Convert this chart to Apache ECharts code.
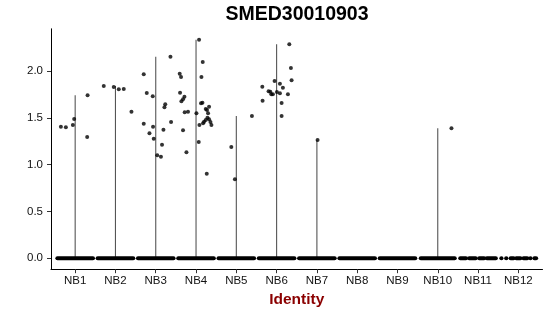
<!DOCTYPE html>
<html>
<head>
<meta charset="utf-8">
<script src="https://cdn.jsdelivr.net/npm/echarts@6/dist/echarts.min.js"></script>
<style>html,body{margin:0;padding:0;background:#fff}#c{width:550px;height:316px}</style>
</head>
<body>
<div id="c"></div>
<script>
const chartTitle = 'SMED30010903';
const xAxisTitle = 'Identity';
const categories = ['NB1','NB2','NB3','NB4','NB5','NB6','NB7','NB8','NB9','NB10','NB11','NB12'];
const yTicks = [0, 0.5, 1.0, 1.5, 2.0];

// non-zero expression values per identity
const exprValues = [
  [1.405, 1.399, 1.423, 1.487, 1.741, 1.295],
  [1.840, 1.829, 1.805, 1.808, 1.565],
  [1.965, 1.765, 1.730, 1.437, 1.335, 1.405, 1.277, 1.100, 1.085, 1.213, 1.373, 1.612, 1.644, 2.153, 1.455],
  [1.971, 1.936, 1.769, 1.726, 1.698, 1.676, 1.559, 1.566, 1.367, 1.132, 2.334, 2.096, 1.936, 1.655, 1.662,
   1.548, 1.423, 1.242, 0.903, 1.594, 1.584, 1.619, 1.548, 1.501, 1.477, 1.459, 1.441, 1.484, 1.455, 1.423],
  [1.188, 0.843, 1.519],
  [2.285, 2.032, 1.901, 1.893, 1.864, 1.832, 1.822, 1.783, 1.779, 1.751, 1.751, 1.776, 1.762, 1.751, 1.683, 1.658, 1.519],
  [1.263],
  [],
  [],
  [1.388],
  [],
  []
];
// horizontal jitter of those points (category units)
const jitterOffsets = [
  [-0.355, -0.231, -0.057, -0.025, 0.308, 0.298],
  [-0.29, -0.042, 0.082, 0.206, 0.397],
  [-0.298, -0.223, -0.075, -0.298, -0.156, -0.067, -0.05, 0.037, 0.129, 0.156, 0.191, 0.216, 0.236, 0.365, 0.380],
  [-0.405, -0.372, -0.397, -0.288, -0.323, -0.363, -0.281, -0.199, -0.323, -0.238, 0.075, 0.166, 0.134, 0.124, 0.159,
   0.01, 0.084, 0.067, 0.266, 0.241, 0.273, 0.323, 0.298, 0.283, 0.241, 0.199, 0.174, 0.323, 0.358, 0.382],
  [-0.124, -0.035, 0.387],
  [0.315, 0.355, 0.372, -0.05, 0.082, -0.355, 0.156, -0.199, -0.156, -0.132, -0.092, 0.007, 0.082, 0.281, -0.348, 0.124, 0.124],
  [0.017],
  [],
  [],
  [0.34],
  [],
  []
];
// spans (category units) covered by the jittered zero-valued cells
const zeroBands = [
  [[-0.44, 0.44]], [[-0.44, 0.44]], [[-0.44, 0.44]], [[-0.44, 0.44]], [[-0.44, 0.44]], [[-0.44, 0.44]],
  [[-0.44, 0.44]], [[-0.44, 0.44]], [[-0.44, 0.44]], [[-0.42, 0.42]],
  [[-0.44, -0.30], [-0.22, -0.06], [0.03, 0.15], [0.22, 0.44]],
  [[-0.42, -0.42], [-0.30, -0.30], [-0.19, -0.12], [-0.05, 0.05], [0.13, 0.22], [0.30, 0.30], [0.40, 0.44]]
];

const chart = echarts.init(document.getElementById('c'), null, {renderer: 'canvas'});

const points = [];
exprValues.forEach((vals, i) => vals.forEach((v, j) => points.push([i + 1 + jitterOffsets[i][j], v])));
const violinData = exprValues.map((vals, i) => [i + 1, vals.length ? Math.max.apply(null, vals) : 0]);
const bandData = [];
zeroBands.forEach((segs, i) => segs.forEach(s => bandData.push([i + 1, s[0], s[1]])));

const yMaxData = Math.max.apply(null, violinData.map(d => d[1]));
const yPad = yMaxData * 0.05;

const FONT = 'Liberation Sans, Arial, Helvetica, sans-serif';

chart.setOption({
  animation: false,
  backgroundColor: '#fff',
  grid: {left: 51, right: 7.5, top: 28.8, bottom: 46.8, containLabel: false},
  graphic: [{
    type: 'text', x: 297, y: 15,
    style: {text: chartTitle, fill: '#000', font: 'bold 19.5px ' + FONT, textAlign: 'center', textVerticalAlign: 'middle'}
  }],
  xAxis: {
    type: 'value', min: 0.4, max: categories.length + 0.6,
    name: xAxisTitle, nameLocation: 'middle', nameGap: 22,
    nameTextStyle: {color: '#8B0000', fontWeight: 'bold', fontSize: 15.5, fontFamily: FONT},
    axisLine: {show: true, onZero: false, lineStyle: {color: '#000', width: 1}},
    axisTick: {show: true, length: 4, lineStyle: {color: '#333'}, customValues: categories.map((c, i) => i + 1)},
    axisLabel: {show: true, margin: 6, color: '#111', fontSize: 11.5, fontFamily: FONT,
      customValues: categories.map((c, i) => i + 1),
      formatter: v => categories[Math.round(v) - 1] || ''},
    splitLine: {show: false}
  },
  yAxis: {
    type: 'value', min: -yPad, max: yMaxData + yPad,
    axisLine: {show: true, onZero: false, lineStyle: {color: '#000', width: 1}},
    axisTick: {show: true, length: 4, lineStyle: {color: '#333'}, customValues: yTicks},
    axisLabel: {show: true, margin: 8, color: '#111', fontSize: 11.5, fontFamily: FONT,
      customValues: yTicks, formatter: v => v.toFixed(1)},
    splitLine: {show: false}
  },
  series: [
    {
      type: 'custom', name: 'violin', data: violinData, z: 1,
      renderItem: (params, api) => {
        const p0 = api.coord([api.value(0), 0]);
        const p1 = api.coord([api.value(0), api.value(1)]);
        return {type: 'line', shape: {x1: p0[0], y1: p0[1], x2: p1[0], y2: p1[1]},
          style: {stroke: '#555', lineWidth: 1.1}};
      }
    },
    {
      type: 'custom', name: 'zero', data: bandData, z: 3,
      renderItem: (params, api) => {
        const c = api.value(0);
        const a = api.coord([c + api.value(1), 0]);
        const b = api.coord([c + api.value(2), 0]);
        return {type: 'line', shape: {x1: a[0], y1: a[1], x2: b[0] + 0.01, y2: b[1]},
          style: {stroke: '#000', lineWidth: 4.2, lineCap: 'round'}};
      }
    },
    {
      type: 'scatter', name: 'cells', data: points, symbol: 'circle', symbolSize: 4, z: 4,
      itemStyle: {color: '#000'}
    }
  ]
});
</script>
</body>
</html>
